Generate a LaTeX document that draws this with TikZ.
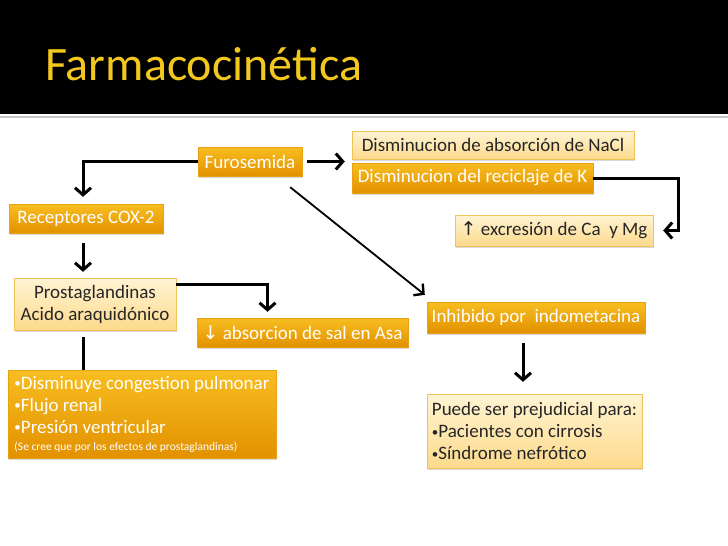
\documentclass[tikz,border=0pt]{standalone}
\usepackage{fontspec}
\setmainfont{Carlito}
\newfontfamily\symfont{DejaVu Sans}
\usetikzlibrary{arrows.meta,shadows}
\definecolor{gold}{RGB}{242,200,30}
\definecolor{orangetop}{RGB}{248,190,32}
\definecolor{orangebot}{RGB}{226,145,0}
\definecolor{orangeline}{RGB}{232,160,20}
\definecolor{pale}{RGB}{255,244,212}
\definecolor{palebot}{RGB}{253,218,140}
\definecolor{paleline}{RGB}{240,195,90}
\newcommand\bul{\raisebox{0.15ex}{\fontsize{13}{13}\selectfont•}}
\tikzset{
  darkbox/.style={top color=orangetop, bottom color=orangebot, draw=orangeline,
    text=white, font=\fontsize{19}{22}\selectfont, inner sep=0pt,
    drop shadow={shadow xshift=1pt, shadow yshift=-1.5pt, opacity=.3}},
  lightbox/.style={top color=pale, bottom color=palebot, draw=paleline,
    text=black!85, font=\fontsize{19}{22}\selectfont, inner sep=0pt,
    drop shadow={shadow xshift=1pt, shadow yshift=-1.5pt, opacity=.3}},
  arr/.style={line width=3pt, -{Straight Barb[length=7pt,width=16pt,line width=3pt]}},
  thinarr/.style={line width=1.8pt, -{Straight Barb[length=7pt,width=15pt,line width=2.4pt]}},
  link/.style={line width=3pt}
}
\begin{document}
\begin{tikzpicture}[x=1pt,y=-1pt]
            \useasboundingbox (0,0) rectangle (728,546);
            \fill[black] (0,0) rectangle (728,114);
            \fill[gray!45] (0,115.5) rectangle (728,117.5);

            \node[anchor=base west, text=gold, font=\fontsize{48}{48}\selectfont, inner sep=0pt] (title) at (45,80) {Farmacocinética};

            \node[darkbox, minimum width=104pt, minimum height=29pt] (furo) at (250,161.5) {Furosemida};
            \node[lightbox, minimum width=282pt, minimum height=28pt] (nacl) at (493,145) {Disminucion de absorción de NaCl};
            \node[darkbox, minimum width=241pt, minimum height=30pt] (reck) at (472.5,178) {Disminucion del reciclaje de K};
            \node[lightbox, minimum width=198pt, minimum height=31pt] (camg) at (554,230.5) {{\symfont ↑} excresión de Ca\ \ y Mg};
            \node[darkbox, minimum width=154pt, minimum height=29pt] (cox) at (86,218.5) {Receptores COX-2};
            \node[lightbox, minimum width=162pt, minimum height=52pt, align=center] (prost) at (95,304) {Prostaglandinas\\Acido araquidónico};
            \node[darkbox, minimum width=211pt, minimum height=29pt] (sal) at (302.5,332.5) {{\symfont ↓} absorcion de sal en Asa};
            \node[darkbox, minimum width=218pt, minimum height=31pt] (indo) at (536,317.5) {Inhibido por\ \ indometacina};
            \node[darkbox, minimum width=268pt, minimum height=88pt, align=left] (efect) at (142,414) {\bul Disminuye congestion pulmonar\\\bul Flujo renal\\\bul Presión ventricular\\[-5pt]{\fontsize{11.5}{13}\selectfont (Se cree que por los efectos de prostaglandinas)}};
            \node[lightbox, minimum width=215pt, minimum height=74pt, align=left] (puede) at (534.5,431) {Puede ser prejudicial para:\\\bul Pacientes con cirrosis\\\bul Síndrome nefrótico};

            \draw[arr] (furo.west) -| ([xshift=-3pt,yshift=7pt]cox.north);
            \draw[arr] ([xshift=5pt]furo.east) -- ([xshift=-7pt]furo.east -| reck.west);
            \draw[thinarr] ([xshift=-12pt,yshift=-11pt]furo.south east) -- ([xshift=-2pt,yshift=7pt]indo.north west);
            \draw[arr] (reck.east) -- ++(85,0) |- ([xshift=10pt]camg.east);
            \draw[arr] ([xshift=-3pt,yshift=-10pt]cox.south) -- ([xshift=-12pt,yshift=6pt]prost.north);
            \draw[arr] ([yshift=20pt]prost.east) -| ([xshift=-35pt,yshift=6pt]sal.north);
            \draw[link] ([xshift=-12pt,yshift=-7pt]prost.south) -- ([xshift=-59pt]efect.north);
            \draw[arr] ([xshift=-13pt,yshift=-10pt]indo.south) -- ([xshift=-11.5pt,yshift=12pt]puede.north);
        \end{tikzpicture}
\end{document}
